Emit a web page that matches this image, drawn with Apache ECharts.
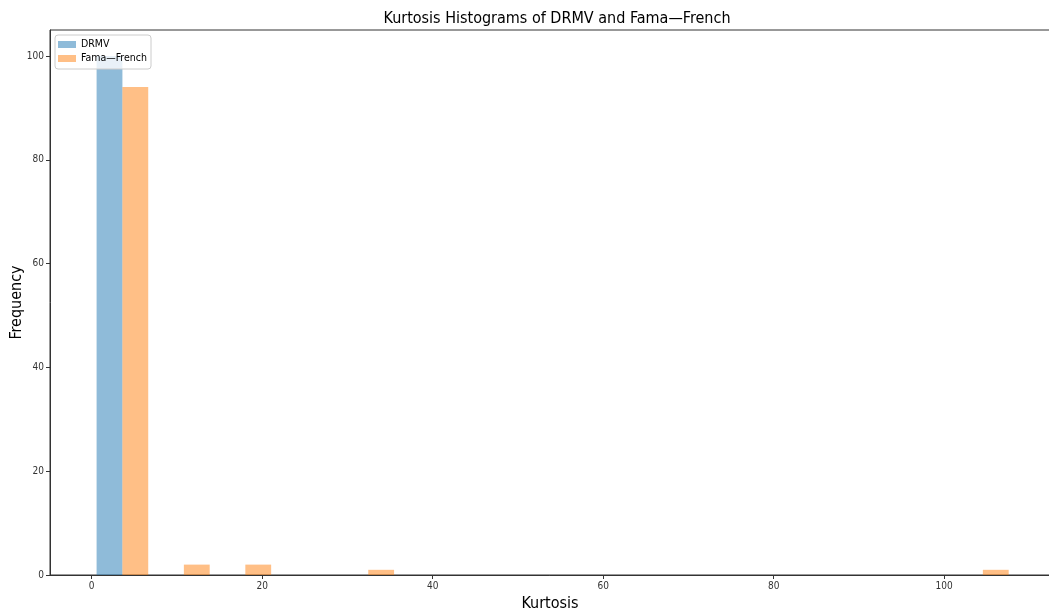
<!DOCTYPE html>
<html>
<head>
<meta charset="utf-8">
<script src="https://cdn.jsdelivr.net/npm/echarts@6/dist/echarts.min.js"></script>
<style>
  html, body { margin: 0; padding: 0; background: #fff; }
  #chart { width: 1049px; height: 611px; }
</style>
</head>
<body>
<div id="chart"></div>
<script>
// Histogram bin edges (15 bins) shared by both datasets
const binEdges = [0.0, 7.21, 14.42, 21.63, 28.84, 36.05, 43.26, 50.47, 57.68, 64.89, 72.10, 79.31, 86.52, 93.73, 100.94, 108.15];
const seriesNames = ['DRMV', 'Fama\u2014French'];
const drmvCounts = [100, 0, 0, 0, 0, 0, 0, 0, 0, 0, 0, 0, 0, 0, 0];
const famaCounts = [94, 2, 2, 0, 1, 0, 0, 0, 0, 0, 0, 0, 0, 0, 1];
const xTicks = [0, 20, 40, 60, 80, 100];
const yTicks = [0, 20, 40, 60, 80, 100];

const colors = ['rgba(31,119,180,0.5)', 'rgba(255,127,14,0.5)'];
const FONT = '"DejaVu Sans Condensed", "DejaVu Sans", sans-serif';

// Side-by-side bars per bin, centred on the bin, one slot per dataset
const BAR_FRAC = 0.42;
function histData(counts, idx) {
  return counts.map((c, i) => [binEdges[i], binEdges[i + 1], c, idx]);
}

function renderBar(params, api) {
  const x0 = api.value(0), x1 = api.value(1), h = api.value(2), k = api.value(3);
  if (h <= 0) return null;
  const w = x1 - x0;
  const mid = (x0 + x1) / 2;
  const left = mid + (k - 1) * BAR_FRAC * w;
  const right = left + BAR_FRAC * w;
  const p0 = api.coord([left, h]);
  const p1 = api.coord([right, 0]);
  return {
    type: 'rect',
    shape: { x: p0[0], y: p0[1], width: p1[0] - p0[0], height: p1[1] - p0[1] },
    style: { fill: api.visual('color') }
  };
}

const chart = echarts.init(document.getElementById('chart'), null, { renderer: 'canvas' });
chart.setOption({
  animation: false,
  backgroundColor: '#fff',
  title: {
    text: 'Kurtosis Histograms of DRMV and Fama\u2014French',
    left: 552, top: 6, textAlign: 'center',
    textStyle: { fontFamily: FONT, fontSize: 16, fontWeight: 'normal', color: '#000' }
  },
  legend: {
    left: 55, top: 35, orient: 'vertical',
    itemWidth: 18, itemHeight: 7, itemGap: 3,
    padding: [4, 4, 5, 3],
    borderColor: '#ccc', borderWidth: 1, borderRadius: 3,
    backgroundColor: 'rgba(255,255,255,0.8)',
    textStyle: { fontFamily: FONT, fontSize: 10.5, color: '#000' },
    data: seriesNames.map((n, i) => ({ name: n, icon: 'rect', itemStyle: { color: colors[i] } }))
  },
  grid: {
    left: 50, top: 30, right: -1, bottom: 36,
    outerBoundsMode: 'none', containLabel: false,
    show: true, borderColor: '#333', borderWidth: 1
  },
  xAxis: {
    type: 'value', min: -4.89, max: 112.42, interval: 20,
    name: 'Kurtosis', nameLocation: 'middle', nameGap: 21, nameMoveOverlap: false,
    nameTextStyle: { fontFamily: FONT, fontSize: 16, color: '#000' },
    axisLine: { show: true, onZero: false, lineStyle: { color: '#333' } },
    axisTick: { show: true, length: 4, lineStyle: { color: '#333' },
      customValues: xTicks },
    axisLabel: { fontFamily: FONT, fontSize: 10, color: '#333', margin: 6,
      customValues: xTicks, formatter: v => String(v) },
    splitLine: { show: false }
  },
  yAxis: {
    type: 'value', min: 0, max: 105, interval: 20,
    name: 'Frequency', nameLocation: 'middle', nameGap: 25, nameMoveOverlap: false,
    nameTextStyle: { fontFamily: FONT, fontSize: 16, color: '#000' },
    axisLine: { show: true, onZero: false, lineStyle: { color: '#333' } },
    axisTick: { show: true, length: 4, lineStyle: { color: '#333' },
      customValues: yTicks },
    axisLabel: { fontFamily: FONT, fontSize: 10, color: '#333', margin: 6,
      customValues: yTicks, formatter: v => String(v) },
    splitLine: { show: false }
  },
  series: [
    { name: seriesNames[0], type: 'custom', renderItem: renderBar, color: colors[0],
      encode: { x: [0, 1], y: 2 }, data: histData(drmvCounts, 0) },
    { name: seriesNames[1], type: 'custom', renderItem: renderBar, color: colors[1],
      encode: { x: [0, 1], y: 2 }, data: histData(famaCounts, 1) }
  ]
});
</script>
</body>
</html>
